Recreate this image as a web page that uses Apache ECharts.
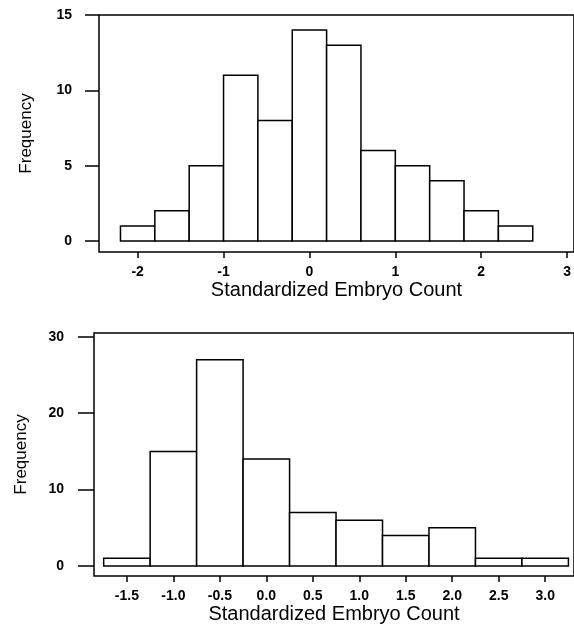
<!DOCTYPE html>
<html>
<head>
<meta charset="utf-8">
<script src="https://cdn.jsdelivr.net/npm/echarts@6/dist/echarts.min.js"></script>
<style>
  html, body { margin: 0; padding: 0; background: #fff; }
  #chart { width: 574px; height: 625px; }
</style>
</head>
<body>
<div id="chart"></div>
<script>
// top histogram: bin edges and counts
const topBinStart = [-2.2, -1.8, -1.4, -1.0, -0.6, -0.2, 0.2, 0.6, 1.0, 1.4, 1.8, 2.2]
const topBinEnd = [-1.8, -1.4, -1.0, -0.6, -0.2, 0.2, 0.6, 1.0, 1.4, 1.8, 2.2, 2.6]
const topCounts = [1, 2, 5, 11, 8, 14, 13, 6, 5, 4, 2, 1]
const topXTicks = [-2, -1, 0, 1, 2, 3]
const topYTicks = [0, 5, 10, 15]

// bottom histogram
const botBinStart = [-1.75, -1.25, -0.75, -0.25, 0.25, 0.75, 1.25, 1.75, 2.25, 2.75]
const botBinEnd = [-1.25, -0.75, -0.25, 0.25, 0.75, 1.25, 1.75, 2.25, 2.75, 3.25]
const botCounts = [1, 15, 27, 14, 7, 6, 4, 5, 1, 1]
const botXTicks = [-1.5, -1.0, -0.5, 0.0, 0.5, 1.0, 1.5, 2.0, 2.5, 3.0]
const botYTicks = [0, 10, 20, 30]

const font = 'Liberation Sans, Arial, sans-serif'

// build [start, end, count] rows
const toRows = (s, e, c) => c.map((v, i) => [s[i], e[i], v])

const renderBar = (params, api) => {
  const p0 = api.coord([api.value(0), api.value(2)])
  const p1 = api.coord([api.value(1), 0])
  return {
    type: 'rect',
    shape: { x: p0[0], y: p0[1], width: p1[0] - p0[0], height: p1[1] - p0[1] },
    style: { fill: '#fff', stroke: '#000', lineWidth: 1.5 }
  }
}

const xAxisBase = (idx, ticks, min, max, fmt) => ({
  type: 'value',
  gridIndex: idx,
  min: min,
  max: max,
  name: 'Standardized Embryo Count',
  nameLocation: 'middle',
  nameGap: 28,
  nameTextStyle: { fontFamily: font, fontSize: 20, color: '#000' },
  axisLine: { show: false, onZero: false },
  splitLine: { show: false },
  axisTick: { show: true, length: 6, customValues: ticks, lineStyle: { color: '#000', width: 1.5 } },
  axisLabel: {
    customValues: ticks, margin: 13, formatter: fmt,
    fontFamily: font, fontSize: 14, fontWeight: 'bold', color: '#000'
  }
})

const yAxisBase = (idx, ticks, min, max, tickLen, margin) => ({
  type: 'value',
  gridIndex: idx,
  min: min,
  max: max,
  name: 'Frequency',
  nameLocation: 'middle',
  nameGap: 64,
  nameRotate: 90,
  nameTextStyle: { fontFamily: font, fontSize: 17, color: '#000' },
  axisLine: { show: false, onZero: false },
  splitLine: { show: false },
  axisTick: { show: true, length: tickLen, customValues: ticks, lineStyle: { color: '#000', width: 1.5 } },
  axisLabel: {
    customValues: ticks, margin: margin,
    fontFamily: font, fontSize: 14, fontWeight: 'bold', color: '#000'
  }
})

const chart = echarts.init(document.getElementById('chart'))
chart.setOption({
  animation: false,
  backgroundColor: '#fff',
  grid: [
    { left: 99, top: 15, right: -2, height: 237, show: true, borderColor: '#000', borderWidth: 1.5 },
    { left: 94, top: 333, right: -2, height: 243, show: true, borderColor: '#000', borderWidth: 1.5 }
  ],
  xAxis: [
    xAxisBase(0, topXTicks, -2.45, 3.08, v => String(v)),
    xAxisBase(1, botXTicks, -1.854, 3.31, v => v.toFixed(1))
  ],
  yAxis: [
    yAxisBase(0, topYTicks, -0.73, 15, 14, 27),
    yAxisBase(1, botYTicks, -1.31, 30.5, 16, 30)
  ],
  series: [
    {
      type: 'custom', xAxisIndex: 0, yAxisIndex: 0,
      renderItem: renderBar,
      encode: { x: [0, 1], y: 2 },
      data: toRows(topBinStart, topBinEnd, topCounts)
    },
    {
      type: 'custom', xAxisIndex: 1, yAxisIndex: 1,
      renderItem: renderBar,
      encode: { x: [0, 1], y: 2 },
      data: toRows(botBinStart, botBinEnd, botCounts)
    }
  ]
})

window.addEventListener('resize', () => chart.resize())
</script>
</body>
</html>
